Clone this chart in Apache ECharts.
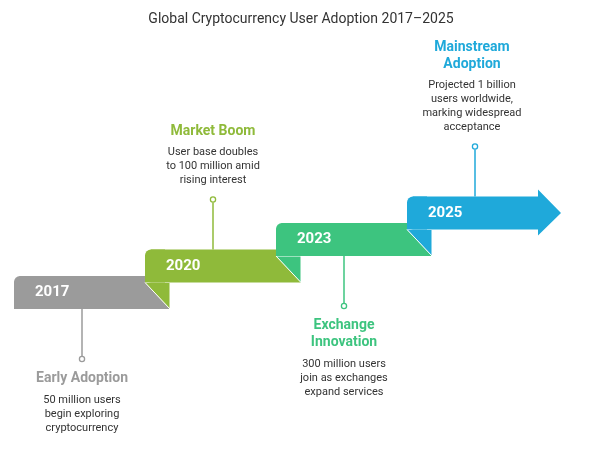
<!DOCTYPE html>
<html><head><meta charset="utf-8">
<script src="https://cdn.jsdelivr.net/npm/echarts@6/dist/echarts.min.js"></script>
<style>html,body{margin:0;padding:0;background:#fff}#c{width:602px;height:451px}</style>
</head><body><div id="c"></div>
<script>
const years = ['2017', '2020', '2023', '2025'];
const titles = ['Early Adoption', 'Market Boom', 'Exchange\nInnovation', 'Mainstream\nAdoption'];
const descriptions = [
  '50 million users\nbegin exploring\ncryptocurrency',
  'User base doubles\nto 100 million amid\nrising interest',
  '300 million users\njoin as exchanges\nexpand services',
  'Projected 1 billion\nusers worldwide,\nmarking widespread\nacceptance'
];
const colors = ['#9b9b9b', '#8fba3a', '#3dc47f', '#1fa9da'];
const titleColors = ['#9b9b9b', '#8fba3a', '#3dc47f', '#1fa9da'];
const labelSide = ['down', 'up', 'down', 'up'];

const chart = echarts.init(document.getElementById('c'));
const H = 33, FOLD = 25;
function renderItem(params, api) {
  const i = api.value(0);
  const p = api.coord([i, i]);
  const pn = api.coord([i + 1, i + 1]);
  const x0 = p[0], y0 = p[1], y1 = y0 + H;
  const nx = pn[0], ny1 = pn[1] + H;
  const last = i === years.length - 1;
  const children = [];
  if (!last) {
    children.push({type: 'polygon', shape: {points: [[x0 + 6, y0], [nx, y0], [nx, ny1], [nx + FOLD, y1], [x0, y1], [x0, y0 + 6]]}, style: {fill: colors[i]}});
    children.push({type: 'rect', shape: {x: x0, y: y0, width: 20, height: H, r: [6, 0, 0, 6]}, style: {fill: colors[i]}});
    children.push({type: 'polygon', shape: {points: [[nx, ny1], [nx + FOLD, ny1], [nx + FOLD, y1]]}, style: {fill: colors[i + 1], stroke: '#fff', lineWidth: 1}});
  } else {
    const bx = x0 + 131;
    const my = (y0 + y1) / 2;
    children.push({type: 'polygon', shape: {points: [[x0 + 6, y0], [bx, y0], [bx, y0 - 7], [bx + 23, my], [bx, y1 + 6], [bx, y1], [x0, y1], [x0, y0 + 6]]}, style: {fill: colors[i]}});
    children.push({type: 'rect', shape: {x: x0, y: y0, width: 20, height: H, r: [6, 0, 0, 6]}, style: {fill: colors[i]}});
  }
  children.push({type: 'text', style: {text: years[i], x: x0 + 21, y: y0 + H / 2, verticalAlign: 'middle', fill: '#fff', font: 'bold 15px Roboto'}});
  const cx = x0 + 68;
  const up = labelSide[i] === 'up';
  const ly0 = up ? y0 : y1;
  const ly1 = up ? y0 - 50 : y1 + 50;
  children.push({type: 'line', shape: {x1: cx, y1: ly0, x2: cx, y2: ly1 + (up ? 3 : -3)}, style: {stroke: colors[i], lineWidth: 1.5}});
  children.push({type: 'circle', shape: {cx: cx, cy: ly1, r: 2.6}, style: {fill: '#fff', stroke: colors[i], lineWidth: 1.3}});
  const tx = i === 0 ? cx : cx + (i === 3 ? -3 : 0);
  children.push({type: 'text', style: {
    text: '{t|' + titles[i].split('\n').join('}\n{t|') + '}\n{s|}\n{d|' + descriptions[i].split('\n').join('}\n{d|') + '}',
    x: tx, y: up ? ly1 - 12 : ly1 + 11, align: 'center', verticalAlign: up ? 'bottom' : 'top',
    rich: {
      t: {font: 'bold 14px Roboto', fill: titleColors[i], lineHeight: 17, align: 'center'},
      s: {lineHeight: 6},
      d: {font: '11px Roboto', fill: '#333', lineHeight: 14, align: 'center'}
    }
  }});
  return {type: 'group', children: children};
}
chart.setOption({
  animation: false,
  title: {text: 'Global Cryptocurrency User Adoption 2017\u20132025', left: 'center', top: 7, textStyle: {fontFamily: 'Roboto', fontSize: 14, fontWeight: 'normal', color: '#333'}},
  grid: {left: 0, right: 0, top: 0, bottom: 0},
  xAxis: {type: 'value', min: -14 / 131, max: 588 / 131, show: false},
  yAxis: {type: 'value', min: -175 / 26.5, max: 276 / 26.5, show: false},
  series: [{type: 'custom', renderItem: renderItem, data: years.map((y, i) => [i]), clip: false}]
});
</script></body></html>
